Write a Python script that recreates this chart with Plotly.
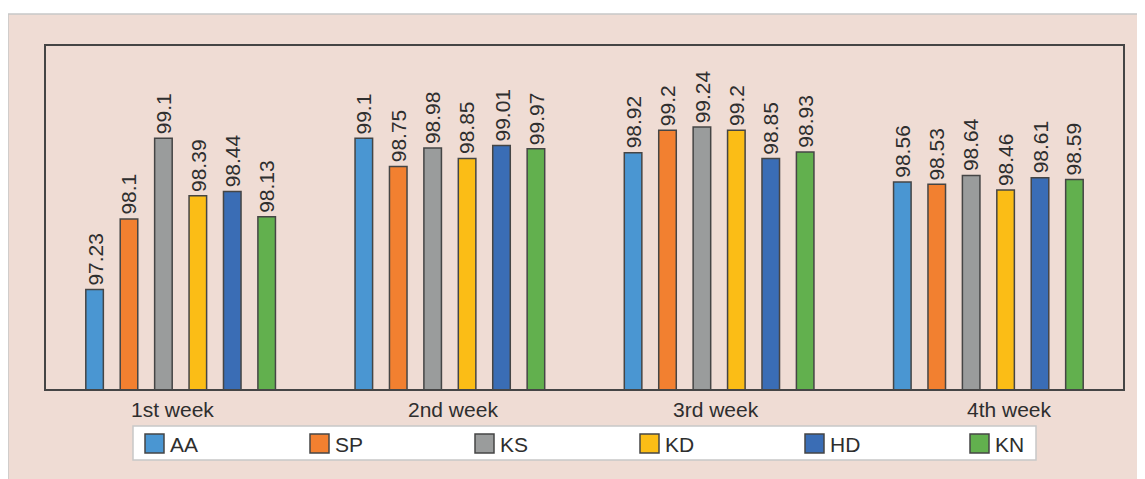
import plotly.graph_objects as go

weeks = ["1st week", "2nd week", "3rd week", "4th week"]
series = ["AA", "SP", "KS", "KD", "HD", "KN"]
colors = ["#4a96d2", "#f28030", "#9a9c9c", "#fbbd16", "#3a6db5", "#62b04e"]

# bar heights
AA = [97.23, 99.10, 98.92, 98.56]
SP = [98.10, 98.75, 99.20, 98.53]
KS = [99.10, 98.98, 99.24, 98.64]
KD = [98.39, 98.85, 99.20, 98.46]
HD = [98.44, 99.01, 98.85, 98.61]
KN = [98.13, 98.97, 98.93, 98.59]

# printed labels (as shown in the original)
AA_lbl = ["97.23", "99.1", "98.92", "98.56"]
SP_lbl = ["98.1", "98.75", "99.2", "98.53"]
KS_lbl = ["99.1", "98.98", "99.24", "98.64"]
KD_lbl = ["98.39", "98.85", "99.2", "98.46"]
HD_lbl = ["98.44", "99.01", "98.85", "98.61"]
KN_lbl = ["98.13", "99.97", "98.93", "98.59"]

values = [AA, SP, KS, KD, HD, KN]
labels = [AA_lbl, SP_lbl, KS_lbl, KD_lbl, HD_lbl, KN_lbl]

FONT = "Arial, Liberation Sans, sans-serif"
TXT = "#2e2e2e"
FS = 21

OFF = 8  # page body margin
W, H = 1145, 479
L, T = 46 - OFF, 46 - OFF
R = W - (1123 - OFF)
B = H - (389 - OFF)
PW, PH = W - L - R, H - T - B

BARGAP = 0.233
BARGROUPGAP = 0.49
# category label nudges (pixels), as placed in the original
week_label_shift = [-8, 3, -3, 21]


def px2x(px):
    return (px - OFF - L) / PW


def px2y(py):
    return (H - B - (py - OFF)) / PH


fig = go.Figure()
annotations = []
n = len(series)
slot = (1 - BARGAP) / n
for j, (name, vals, lbl, col) in enumerate(zip(series, values, labels, colors)):
    fig.add_trace(go.Bar(
        name=name, x=weeks, y=vals,
        marker=dict(color=col, line=dict(color="#454545", width=1.5)),
        showlegend=False,
    ))
    for i, (v, t) in enumerate(zip(vals, lbl)):
        annotations.append(dict(
            xref="x", yref="y", x=i - (1 - BARGAP) / 2 + (j + 0.5) * slot, y=v,
            text=t, textangle=-90, showarrow=False,
            xanchor="center", yanchor="bottom", yshift=2,
            font=dict(size=FS, color=TXT, family=FONT)))

for i, (wk, sh) in enumerate(zip(weeks, week_label_shift)):
    annotations.append(dict(xref="x", yref="paper", x=i, y=px2y(409.5), xshift=sh,
                            text=wk, showarrow=False, xanchor="center", yanchor="middle",
                            font=dict(size=FS, color=TXT, family=FONT)))

shapes = [
    # pink panel
    dict(type="rect", xref="paper", yref="paper", layer="below",
         x0=px2x(8), x1=px2x(W + 20), y0=px2y(H + 20), y1=px2y(14),
         fillcolor="#efdcd4", line=dict(color="#c8c8c8", width=1.5)),
    # legend box
    dict(type="rect", xref="paper", yref="paper",
         x0=px2x(133), x1=px2x(1036), y0=px2y(460), y1=px2y(426),
         fillcolor="white", line=dict(color="#c8c8c8", width=1.5)),
]
for i, (name, col) in enumerate(zip(series, colors)):
    sx = 145 + 165 * i
    shapes.append(dict(type="rect", xref="paper", yref="paper",
                       x0=px2x(sx), x1=px2x(sx + 19), y0=px2y(453), y1=px2y(434),
                       fillcolor=col, line=dict(color="#454545", width=1.5)))
    annotations.append(dict(xref="paper", yref="paper", x=px2x(sx + 23), y=px2y(444),
                            text=name, showarrow=False, xanchor="left", yanchor="middle",
                            font=dict(size=FS, color=TXT, family=FONT)))

fig.update_layout(
    width=W, height=H,
    margin=dict(l=L, r=R, t=T, b=B),
    barmode="group", bargap=BARGAP, bargroupgap=BARGROUPGAP,
    paper_bgcolor="white", plot_bgcolor="white",
    font=dict(family=FONT, color=TXT, size=FS),
    shapes=shapes, annotations=annotations,
    showlegend=False,
)
fig.update_xaxes(showline=True, linecolor="#454545", linewidth=1.5, mirror=True,
                 ticks="", showgrid=False, showticklabels=False)
fig.update_yaxes(range=[96, 100.24], showline=True, linecolor="#454545", linewidth=1.5,
                 mirror=True, showticklabels=False, ticks="", showgrid=False, zeroline=False)

fig.write_html("out.html")
